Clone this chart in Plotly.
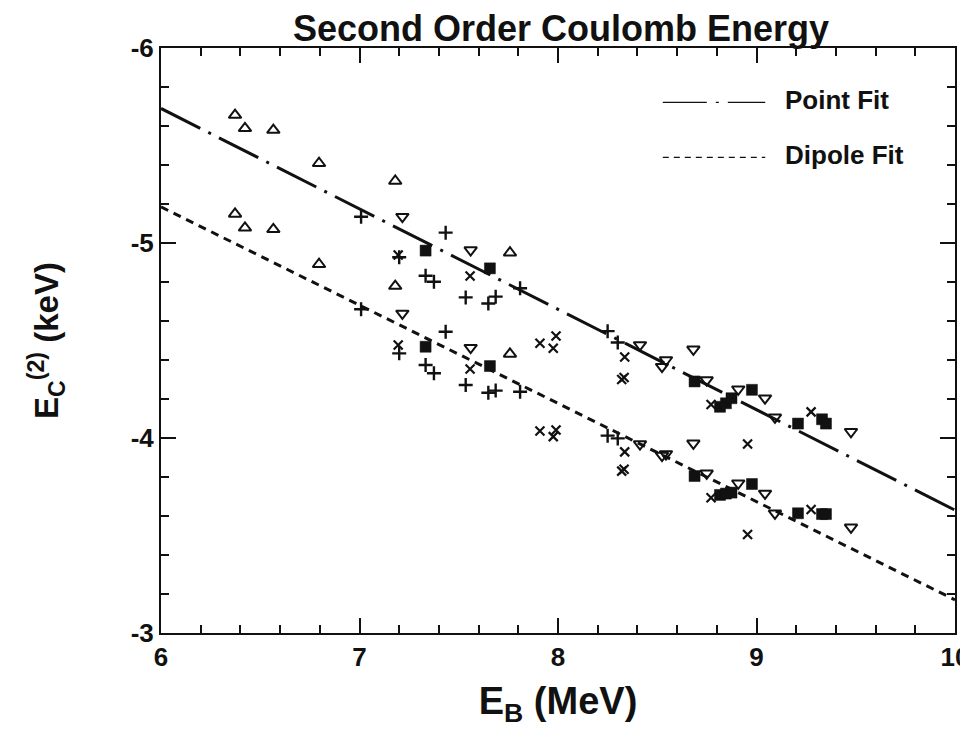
import plotly.graph_objects as go

# ---- data (E_B in MeV, E_C^(2) in keV) ----
tri_up_eb = [6.373, 6.423, 6.566, 6.796, 7.180, 7.758]
tri_up_point = [-5.656, -5.588, -5.579, -5.409, -5.318, -4.950]
tri_up_dipole = [-5.149, -5.078, -5.070, -4.891, -4.779, -4.431]

tri_dn_eb = [7.216, 7.560, 8.413, 8.544, 8.524, 8.682, 8.749, 8.908, 9.043, 9.093, 9.476]
tri_dn_point = [-5.135, -4.964, -4.477, -4.400, -4.366, -4.455, -4.297, -4.250, -4.204, -4.106, -4.032]
tri_dn_dipole = [-4.639, -4.463, -3.969, -3.918, -3.910, -3.973, -3.819, -3.768, -3.716, -3.614, -3.542]

plus_eb = [7.008, 7.434, 7.200, 7.333, 7.375, 7.535, 7.649, 7.686, 7.809, 8.250, 8.301]
plus_point = [-5.135, -5.053, -4.927, -4.832, -4.801, -4.721, -4.690, -4.725, -4.768, -4.548, -4.490]
plus_dipole = [-4.660, -4.545, -4.434, -4.374, -4.332, -4.272, -4.232, -4.243, -4.237, -4.012, -3.998]

cross_eb = [7.195, 7.557, 7.909, 7.976, 7.990, 8.336, 8.321, 8.333, 8.771, 9.275, 8.955]
cross_point = [-4.938, -4.831, -4.486, -4.460, -4.523, -4.415, -4.300, -4.310, -4.172, -4.134, -3.969]
cross_dipole = [-4.477, -4.354, -4.036, -4.007, -4.041, -3.929, -3.830, -3.840, -3.694, -3.633, -3.505]

sq_eb = [7.333, 7.657, 8.688, 8.816, 8.846, 8.874, 8.977, 9.209, 9.330, 9.350]
sq_point = [-4.961, -4.870, -4.290, -4.160, -4.178, -4.204, -4.247, -4.074, -4.096, -4.074]
sq_dipole = [-4.468, -4.369, -3.805, -3.708, -3.715, -3.720, -3.764, -3.614, -3.610, -3.610]

fit_eb = [6.0, 10.0]
point_fit = [-5.69, -3.63]
dipole_fit = [-5.185, -3.17]

x_ticks = [6, 7, 8, 9, 10]
x_ticktext = ["<b>6</b>", "<b>7</b>", "<b>8</b>", "<b>9</b>", "<b>10</b>"]
y_ticks = [-6, -5, -4, -3]
y_ticktext = ["<b>-6</b>", "<b>-5</b>", "<b>-4</b>", "<b>-3</b>"]

FONT = "Liberation Sans"
BLACK = "#111111"

fig = go.Figure()

fig.add_trace(go.Scatter(x=fit_eb, y=point_fit, mode="lines",
                         line=dict(color=BLACK, width=3, dash="44px,9px,3px,9px"),
                         showlegend=False, hoverinfo="skip"))
fig.add_trace(go.Scatter(x=fit_eb, y=dipole_fit, mode="lines",
                         line=dict(color=BLACK, width=3, dash="8px,6px"),
                         showlegend=False, hoverinfo="skip"))

def add_pts(xs, ys, symbol, size, lw):
    fig.add_trace(go.Scatter(
        x=xs, y=ys, mode="markers", showlegend=False,
        marker=dict(symbol=symbol, size=size, color=BLACK,
                    line=dict(color=BLACK, width=lw))))

for ys in (tri_up_point, tri_up_dipole):
    add_pts(tri_up_eb, ys, "triangle-up-open", 11, 2)
for ys in (tri_dn_point, tri_dn_dipole):
    add_pts(tri_dn_eb, ys, "triangle-down-open", 11, 2)
for ys in (plus_point, plus_dipole):
    add_pts(plus_eb, ys, "cross-thin", 10, 2.4)
for ys in (cross_point, cross_dipole):
    add_pts(cross_eb, ys, "x-thin", 9, 2.2)
for ys in (sq_point, sq_dipole):
    add_pts(sq_eb, ys, "square", 11, 0.5)

# legend drawn as shapes + annotations
leg = [("<b>Point Fit</b>", "44px,9px,3px,9px", 0.907), ("<b>Dipole Fit</b>", "6px,5px", 0.813)]
for label, dash, yy in leg:
    fig.add_shape(type="line", xref="paper", yref="paper", x0=0.632, x1=0.761,
                  y0=yy, y1=yy, line=dict(color=BLACK, width=1.3, dash=dash))
    fig.add_annotation(xref="paper", yref="paper", x=0.783, y=yy + 0.004, text=label,
                       showarrow=False, xanchor="left", yanchor="middle",
                       font=dict(family=FONT, size=26, color=BLACK))

axis_common = dict(showgrid=False, zeroline=False, showline=True, linecolor=BLACK,
                   linewidth=2, mirror="allticks", ticks="inside", ticklen=15,
                   tickwidth=2, tickcolor=BLACK, ticklabeloverflow="allow",
                   automargin=False,
                   tickfont=dict(family=FONT, size=26, color=BLACK))

fig.update_xaxes(range=[6, 10], tickvals=x_ticks, ticktext=x_ticktext,
                 minor=dict(ticks="inside", ticklen=8, dtick=0.2, tickwidth=1.5, tickcolor=BLACK),
                 title=dict(text="<b>E<sub>B</sub> (MeV)</b>",
                            font=dict(family=FONT, size=38, color=BLACK), standoff=16),
                 **axis_common)
fig.update_yaxes(range=[-3, -6], tickvals=y_ticks, ticktext=y_ticktext,
                 minor=dict(ticks="inside", ticklen=8, dtick=0.2, tickwidth=1.5, tickcolor=BLACK),
                 title=dict(text="<b>E<sub>C</sub><sup>(2)</sup> (keV)</b>",
                            font=dict(family=FONT, size=33, color=BLACK), standoff=62),
                 **axis_common)

fig.update_layout(
    width=960, height=726,
    margin=dict(l=153, r=13, t=40, b=101, autoexpand=False),
    paper_bgcolor="white", plot_bgcolor="white",
    title=dict(text="<b>Second Order Coulomb Energy</b>", x=0.576, xanchor="center",
               y=0.972, yanchor="middle", font=dict(family=FONT, size=36, color=BLACK)),
    font=dict(family=FONT, color=BLACK),
)

fig.write_html("out.html")
